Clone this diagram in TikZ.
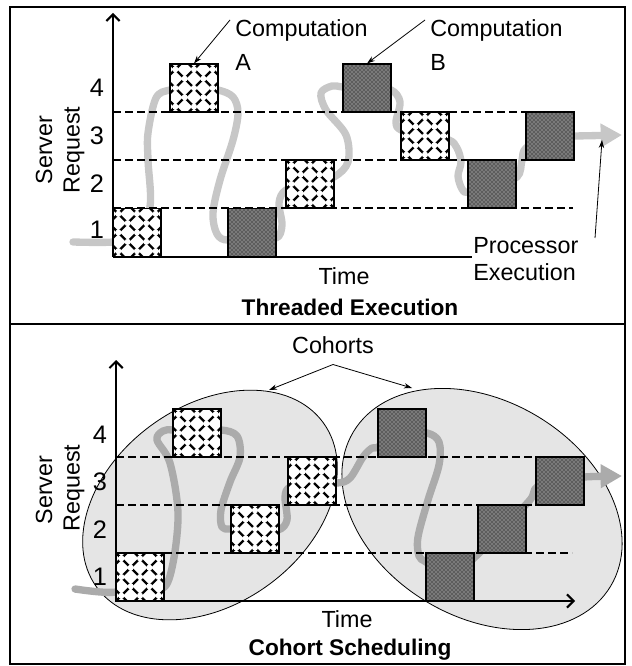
\documentclass[tikz,border=0pt]{standalone}
\usepackage{fontspec}
\setmainfont{Liberation Sans}
\usetikzlibrary{shapes.geometric,arrows.meta,patterns,backgrounds,calc}

\newcommand{\hatchstep}{14pt}

\begin{document}
\begin{tikzpicture}
	[x=0.75pt,y=-0.75pt,
	lbl/.style={font=\fontsize{17.5}{21}\selectfont,inner sep=0pt},
	big/.style={font=\fontsize{19}{23}\selectfont,inner sep=0pt},
	ttl/.style={font=\fontsize{17}{21}\selectfont\bfseries,inner sep=0pt},
	crossbox/.style={draw,line width=0.8pt,fill=white,minimum size=36pt,inner sep=0pt,
		path picture={
			\foreach \k in {-4,...,4}{
				\draw[black,line width=1.7pt] ([shift={(\k*\hatchstep-30pt,-30pt)}]path picture bounding box.center) -- ++(60pt,60pt);
				\draw[black,line width=1.7pt] ([shift={(\k*\hatchstep-30pt,30pt)}]path picture bounding box.center) -- ++(60pt,-60pt);
			}
			\foreach \i in {-3,...,3}{
				\foreach \j in {-3,...,3}{
					\fill ([shift={({(\i+\j)*\hatchstep/2},{(\j-\i)*\hatchstep/2})}]path picture bounding box.center) circle (2.3pt);
				}
			}
		}},
	dotbox/.style={draw,line width=0.8pt,fill=black!52,minimum size=36pt,inner sep=0pt,
		postaction={pattern=crosshatch dots,pattern color=black}},
	thread/.style={line width=5.5pt,line cap=round,line join=round},
	level/.style={dash pattern=on 6pt off 3pt,line width=1.1pt},
	axis/.style={line width=1.5pt},
	pointer/.style={-{Stealth[length=6pt,width=4pt]},line width=0.6pt},
	cohort/.style={draw,line width=0.6pt,fill=black!10}]
	\useasboundingbox (0,0) rectangle (631,666);
	\draw[line width=1.6pt] (10,7) rectangle (625,664);
	\draw[line width=1.6pt] (10,324) -- (625,324);
	
	% threaded execution
	\foreach \name/\x/\y in {b1/137/232.5, b2/194/88, b4/310/184, b6/425/136}
		\node[crossbox] (\name) at (\x,\y) {};
	\foreach \name/\x/\y in {b3/252/232.5, b5/367/88, b7/492/184, b8/550/136}
		\node[dotbox] (\name) at (\x,\y) {};
	\coordinate (o1) at (113,257);
	\coordinate (y1) at (113,13);
	\coordinate (x1) at (472,257);
	\coordinate (t0) at (73,242);
	\coordinate (t1) at (622,135);
	\begin{scope}[on background layer]
		\draw[thread,black!22,-{Triangle[length=16pt,width=17pt]}] plot[smooth,tension=0.55] coordinates {
			(t0) (113,242) (135,236) (150,207) (148,160) (148,133) (156,98) (170,90) (b2)
			(218,90) (233,97) (238,113) (233,140) (220,180) (213,213) (217,234) (228,240) (b3)
			(276,238) (282,225) (279,203) (286,190) (b4)
			(334,177) (348,162) (346,135) (326,110) (321,93) (332,86) (343,87) (b5)
			(391,90) (400,102) (396,122) (401,130) (b6)
			(449,140) (457,148) (461,162) (458,176) (462,189) (468,192) (b7)
			(517,177) (522,160) (526,148) (b8) (574,136) (t1)};
		\foreach \y in {208,160,112}
			\draw[level] (113,\y) -- (573,\y);
	\end{scope}
	\draw[axis,-{Straight Barb[length=5pt,width=10pt]}] (o1) -- (y1);
	\draw[axis] (o1) -- (x1);
	\foreach \n/\y in {1/230,2/184,3/136,4/88}
		\node[big] (lva\n) at (97,\y) {\n};
	\node[lbl,rotate=90] (srva) at (44,150) {Server};
	\node[lbl,rotate=90] (rqa) at (74,150) {Request};
	\node[lbl] (tma) at (344,276) {Time};
	\node[lbl,anchor=west,align=left,font=\fontsize{17.5}{26}\selectfont] (compa) at (235,45) {Computation\\A};
	\node[lbl,anchor=west,align=left,font=\fontsize{17.5}{26}\selectfont] (compb) at (430,45) {Computation\\B};
	\node[lbl,anchor=west,align=left,font=\fontsize{17.5}{20}\selectfont] (proc) at (473,259) {Processor\\Execution};
	\coordinate (pa) at (230,20);
	\coordinate (pb) at (425,20);
	\coordinate (pe) at (595,238);
	\coordinate (px) at (602,140);
	\draw[pointer] (pa) -- (b2.north);
	\draw[pointer] (pb) -- (b5.north);
	\draw[pointer] (pe) -- (px);
	\node[ttl] (thr) at (350,307) {Threaded Execution};
	
	% cohort scheduling
	\foreach \name/\x/\y in {c1/140/577, c2/197/433, c3/255/529, c4/312/481}
		\node[crossbox] (\name) at (\x,\y) {};
	\foreach \name/\x/\y in {c5/402/433, c6/450/577, c7/502/529, c8/560/481}
		\node[dotbox] (\name) at (\x,\y) {};
	\coordinate (o2) at (116,601);
	\coordinate (y2) at (116,360);
	\coordinate (x2) at (575,601);
	\coordinate (s0) at (75,589);
	\coordinate (s1) at (622,476);
	\begin{scope}[on background layer]
		\draw[cohort,rotate around={36:(210,505)}] (210,505) ellipse [x radius=140,y radius=99];
		\draw[cohort,rotate around={-31:(482,509)}] (482,509) ellipse [x radius=150,y radius=108];
		\draw[thread,black!33,-{Triangle[length=16pt,width=17pt]}] plot[smooth,tension=0.55] coordinates {
			(s0) (116,592) (c1) (163,588) (173,563) (178,513) (170,463) (157,440) (163,431) (173,430) (c2)
			(221,430) (237,436) (240,457) (230,482) (221,510) (222,527) (231,529) (c3)
			(278,530) (287,520) (285,497) (290,487) (c4)
			(337,483) (350,478) (363,457) (372,448) (378,447) (c5)
			(427,433) (439,442) (439,465) (428,500) (418,537) (419,556) (426,562) (c6)
			(475,557) (c7) (530,500) (537,487) (c8) (584,477) (s1)};
		\foreach \y in {553,505,457}
			\draw[level] (116,\y) -- (572,\y);
	\end{scope}
	\draw[axis,-{Straight Barb[length=5pt,width=10pt]}] (o2) -- (y2);
	\draw[axis,-{Straight Barb[length=5pt,width=10pt]}] (o2) -- (x2);
	\foreach \n/\y in {1/577,2/530,3/482,4/435}
		\node[big] (lvb\n) at (100,\y) {\n};
	\node[lbl,rotate=90] (srvb) at (44,490) {Server};
	\node[lbl,rotate=90] (rqb) at (74,488) {Request};
	\node[lbl] (tmb) at (347,619) {Time};
	\node[lbl] (coh) at (333,345) {Cohorts};
	\coordinate (cl) at (269,390);
	\coordinate (cr) at (412,388);
	\draw[pointer] ([yshift=-8pt]coh.south) -- (cl);
	\draw[pointer] ([yshift=-8pt]coh.south) -- (cr);
	\node[ttl] (sch) at (350,650) {Cohort Scheduling};
\end{tikzpicture}
\end{document}
